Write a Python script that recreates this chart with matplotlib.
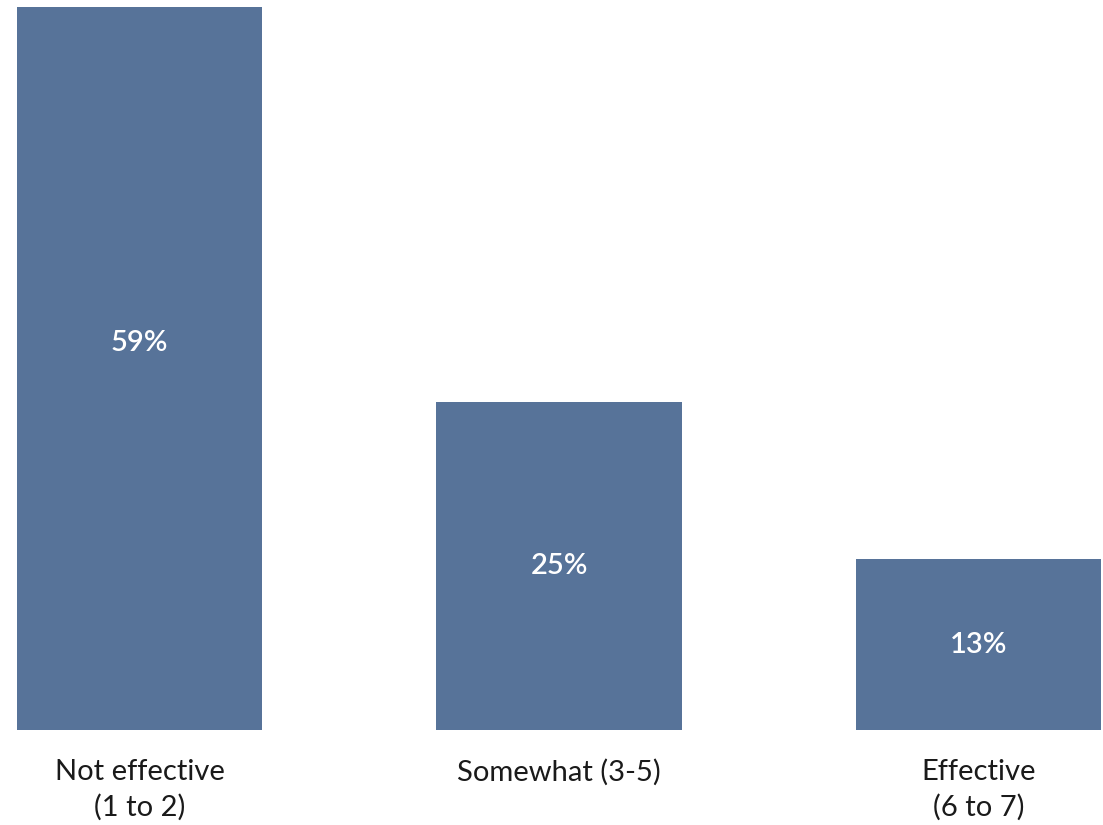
import matplotlib
matplotlib.use("Agg")
import matplotlib.pyplot as plt

categories = ["Not effective\n(1 to 2)", "Somewhat (3-5)", "Effective\n(6 to 7)"]
values = [59, 25, 13]
value_labels = ["59%", "25%", "13%"]

plt.rcParams['font.family'] = ['Lato', 'DejaVu Sans']

fig = plt.figure(figsize=(11.03, 8.25), dpi=100)
ax = fig.add_axes([17/1103, 95/825, 1084/1103, 723/825])

x = list(range(len(categories)))
bars = ax.bar(x, values, width=0.585, color="#577399")
ax.set_xlim(-0.2925, len(categories) - 1 + 0.2925)
ax.set_ylim(0, 55.1)

for xi, v, lab in zip(x, values, value_labels):
    ax.text(xi, v / 2, lab, ha="center", va="center", color="white",
            fontsize=21, fontweight="semibold")

ax.set_xticks(x)
ax.set_xticklabels(categories, fontsize=21, color="#1a1a1a", linespacing=1.38)
ax.tick_params(axis="x", length=0, pad=21)
ax.set_yticks([])
for s in ax.spines.values():
    s.set_visible(False)

fig.savefig("out.png", dpi=100)
